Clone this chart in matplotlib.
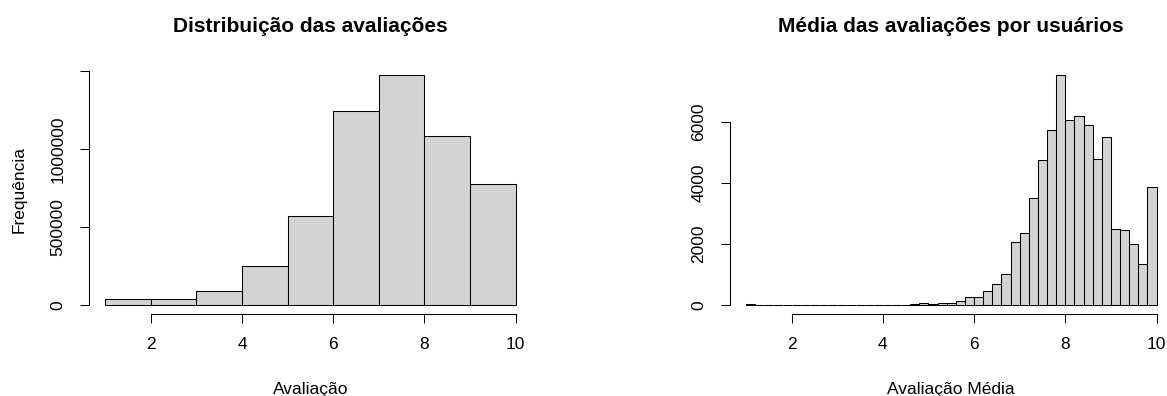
import numpy as np
import matplotlib.pyplot as plt

plt.rc('font', family='Liberation Sans', size=12.5)

# notas individuais: classes de largura 1
edges_notas = np.arange(1, 11)
freq_notas = [36000, 36000, 92000, 248000, 570000,
              1241000, 1474000, 1083000, 776000]

# media por usuario: classes de largura 0.2 entre 1 e 10
edges_media = np.round(np.linspace(1, 10, 46), 1)
freq_media = [30] + [0] * 17 + [30, 75, 40, 75, 75, 120, 275, 250, 460, 700,
                                1020, 2070, 2355, 3515, 4740, 5725, 7545,
                                6065, 6210, 5900, 4785, 5510, 2485, 2450,
                                2015, 1335, 3865]

yticks_notas = [0, 500000, 1000000, 1500000]
ylabels_notas = ['0', '500000', '1000000', '']
yticks_media = [0, 2000, 4000, 6000]
xticks = [2, 4, 6, 8, 10]

W, H = 1167, 396
fig = plt.figure(figsize=(W / 100, H / 100), dpi=100, facecolor='white')

def painel(left_px, edges, freq, yticks, ylabels, titulo, xlab, ylab):
    ax = fig.add_axes([left_px / W, (H - 314.2) / H,
                       443.4 / W, (314.2 - 65.6) / H])
    edges = np.asarray(edges, dtype=float)
    ax.bar(edges[:-1], freq, width=np.diff(edges), align='edge',
           color='#D3D3D3', edgecolor='black', linewidth=0.75)
    ymax = max(freq)
    ax.set_xlim(edges[0] - 0.04 * (edges[-1] - edges[0]),
                edges[-1] + 0.04 * (edges[-1] - edges[0]))
    ax.set_ylim(-0.04 * ymax, 1.04 * ymax)
    for s in ['top', 'right']:
        ax.spines[s].set_visible(False)
    ax.spines['left'].set_bounds(yticks[0], yticks[-1])
    ax.spines['bottom'].set_bounds(xticks[0], xticks[-1])
    ax.spines['left'].set_linewidth(0.75)
    ax.spines['bottom'].set_linewidth(0.75)
    ax.set_xticks(xticks)
    ax.set_xticklabels([str(t) for t in xticks])
    ax.set_yticks(yticks)
    ax.set_yticklabels(ylabels, rotation=90, va='center')
    ax.tick_params(length=6.7, width=0.75, pad=10, colors='black')
    ax.set_title(titulo, fontsize=15, fontweight='bold', pad=24)
    ax.set_xlabel(xlab, labelpad=21)
    if ylab:
        ax.set_ylabel(ylab, labelpad=17)
    return ax

painel(88.7, edges_notas, freq_notas, yticks_notas, ylabels_notas,
       'Distribuição das avaliações', 'Avaliação', 'Frequência')
painel(729.6, edges_media, freq_media, yticks_media,
       [str(t) for t in yticks_media],
       'Média das avaliações por usuários', 'Avaliação Média', None)

fig.savefig('out.png', dpi=100)
